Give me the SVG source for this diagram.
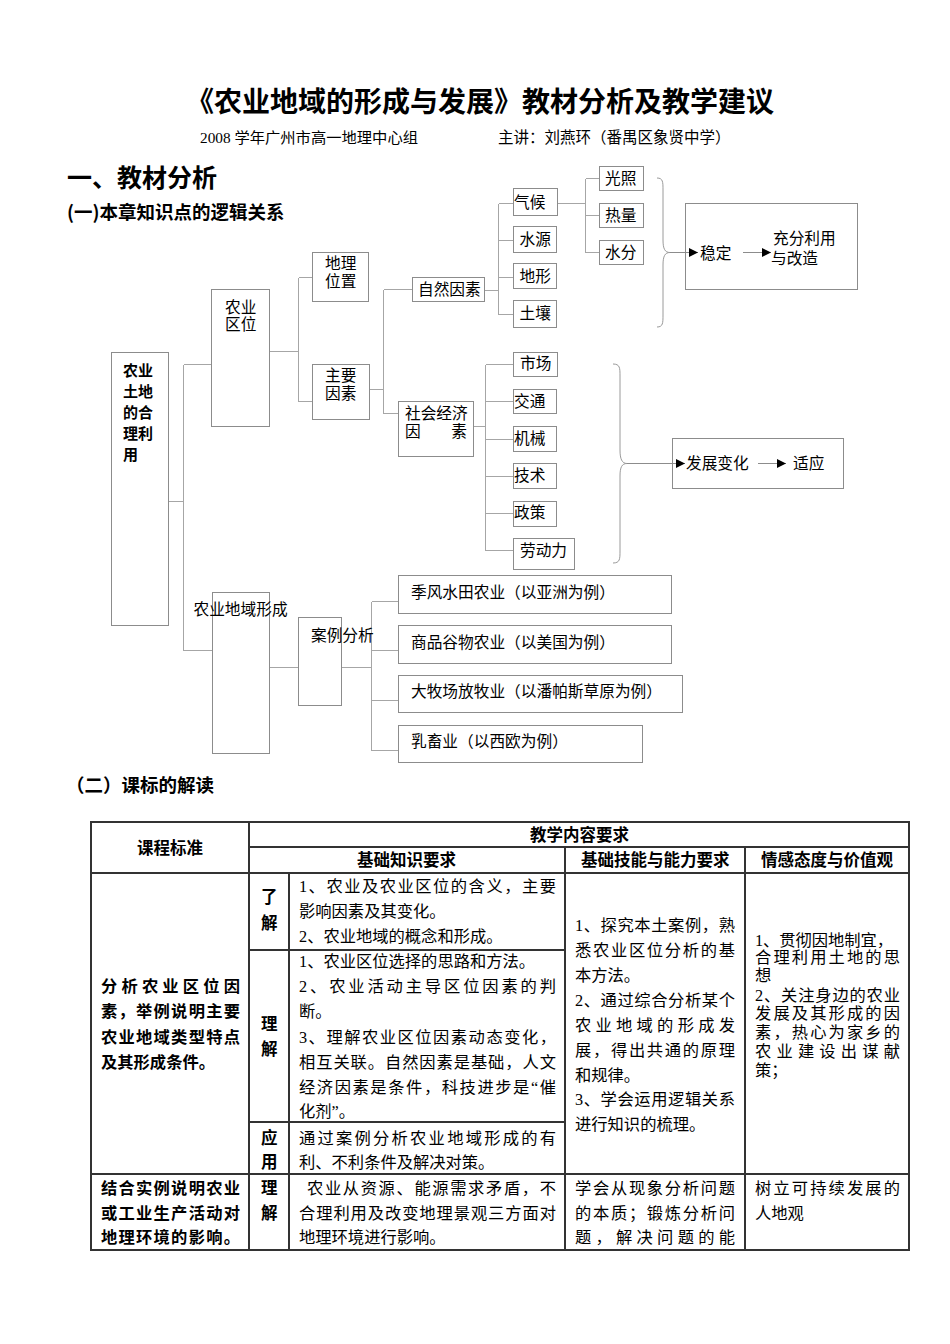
<svg xmlns="http://www.w3.org/2000/svg" width="950" height="1344" viewBox="0 0 950 1344">
<style>
text{font-family:"Liberation Serif","Noto Sans CJK SC",serif;fill:#000}
.h{font-family:"Noto Sans CJK SC","Liberation Sans",sans-serif;font-weight:bold}
.t{font-size:15.7px}
.b{fill:#fff;stroke:#8c8c8c;stroke-width:1}
.cn{fill:none;stroke:#a6a6a6;stroke-width:1}
.br{fill:none;stroke:#9a9a9a;stroke-width:1}
.tb{fill:none;stroke:#333;stroke-width:1.4}
.c{font-size:16.3px}
.th{font-size:16.5px}
</style>
<defs>
<marker id="arr" markerWidth="9" markerHeight="9" refX="9" refY="4.5" orient="auto" markerUnits="userSpaceOnUse">
<path d="M0,0 L9,4.5 L0,9 z" fill="#000"/>
</marker>
</defs>
<rect width="950" height="1344" fill="#fff"/>

<g id="titles">
<text class="h" x="186" y="112" font-size="28">《农业地域的形成与发展》教材分析及教学建议</text>
<text x="200" y="143" font-size="15.3">2008 学年广州市高一地理中心组</text>
<text x="498" y="143" font-size="15.5">主讲：刘燕环（番禺区象贤中学）</text>
<text class="h" x="67" y="186.5" font-size="25">一、教材分析</text>
<text class="h" x="67" y="219" font-size="18.5">(一)本章知识点的逻辑关系</text>
<text class="h" x="66" y="792" font-size="18.5">（二）课标的解读</text>
</g>

<g id="connectors" shape-rendering="crispEdges">
<path class="cn" d="M168.5,501.5H183.5M183.5,364.5V650.5M183.5,364.5H211.5M183.5,650.5H212.5"/>
<path class="cn" d="M269.5,351.5H298.5M298.5,277.5V401.5M298.5,277.5H312.5M298.5,401.5H312.5"/>
<path class="cn" d="M369.5,389.5H383.5M383.5,289.5V413.5M383.5,289.5H412.5M383.5,413.5H398.5"/>
<path class="cn" d="M484.5,290.5H498.5M498.5,203.5V314.5M498.5,203.5H513.5M498.5,240.5H513.5M498.5,277.5H513.5M498.5,314.5H513.5"/>
<path class="cn" d="M557.5,203.5H585.5M585.5,178.5V252.5M585.5,178.5H599.5M585.5,215.5H599.5M585.5,252.5H599.5"/>
<path class="cn" d="M473.5,426.5H485.5M485.5,364.5V550.5M485.5,364.5H513.5M485.5,401.5H513.5M485.5,439.5H513.5M485.5,476.5H513.5M485.5,513.5H513.5M485.5,550.5H513.5"/>
<path class="cn" d="M269.5,667.5H298.5M328.5,667.5H371.5M371.5,601.5V750.5M371.5,601.5H398.5M371.5,650.5H398.5M371.5,700.5H398.5M371.5,750.5H398.5"/>
</g>

<g id="n-main"><rect class="b" x="111.5" y="352.5" width="57" height="273"/>
<text class="h" font-size="15"><tspan x="123" y="376">农业</tspan><tspan x="123" y="397">土地</tspan><tspan x="123" y="418">的合</tspan><tspan x="123" y="439">理利</tspan><tspan x="123" y="460">用</tspan></text></g>

<g id="n-quwei"><rect class="b" x="211.5" y="289.5" width="58" height="137"/>
<text class="t"><tspan x="225" y="313">农业</tspan><tspan x="225" y="330">区位</tspan></text></g>

<g id="n-dili"><rect class="b" x="312.5" y="252.5" width="56" height="49"/>
<text class="t"><tspan x="325" y="269">地理</tspan><tspan x="325" y="287">位置</tspan></text></g>

<g id="n-zhuyao"><rect class="b" x="312.5" y="364.5" width="57" height="55"/>
<text class="t"><tspan x="325" y="381">主要</tspan><tspan x="325" y="399">因素</tspan></text></g>

<g id="n-ziran"><rect class="b" x="412.5" y="277.5" width="72" height="24"/>
<text class="t" x="418" y="294.5">自然因素</text></g>

<g id="n-shehui"><rect class="b" x="398.5" y="401.5" width="75" height="55"/>
<text class="t"><tspan x="405" y="418.5">社会经济</tspan><tspan x="405" y="437" textLength="62" lengthAdjust="spacing">因　　素</tspan></text></g>

<g id="n-qihou"><rect class="b" x="513.5" y="188.5" width="44" height="27"/>
<text class="t" x="514" y="208">气候</text></g>
<g id="n-shuiyuan"><rect class="b" x="513.5" y="226.5" width="43" height="26"/>
<text class="t" x="519.5" y="245">水源</text></g>
<g id="n-dixing"><rect class="b" x="513.5" y="263.5" width="43" height="25"/>
<text class="t" x="519.5" y="282">地形</text></g>
<g id="n-turang"><rect class="b" x="513.5" y="300.5" width="43" height="27"/>
<text class="t" x="519.5" y="319">土壤</text></g>

<g id="n-guangzhao"><rect class="b" x="599.5" y="166.5" width="44" height="24"/>
<text class="t" x="605" y="184">光照</text></g>
<g id="n-reliang"><rect class="b" x="599.5" y="203.5" width="44" height="24"/>
<text class="t" x="605" y="221">热量</text></g>
<g id="n-shuifen"><rect class="b" x="599.5" y="240.5" width="44" height="24"/>
<text class="t" x="605" y="258">水分</text></g>

<g id="n-wending"><rect class="b" x="685.5" y="203.5" width="172" height="86"/>
<path class="br" d="M657,178 C663,178 663,182 663,190 L663,240 C663,249 665,252.5 670,252.5 C665,252.5 663,256 663,265 L663,315 C663,323 663,327 657,327"/>
<line x1="670" y1="252.5" x2="698" y2="252.5" stroke="#8c8c8c" stroke-width="1" marker-end="url(#arr)"/>
<text class="t" x="700" y="258.5">稳定</text>
<line x1="743" y1="252.5" x2="771" y2="252.5" stroke="#8c8c8c" stroke-width="1" marker-end="url(#arr)"/>
<text class="t"><tspan x="773" y="243.5">充分利用</tspan><tspan x="771" y="263.5">与改造</tspan></text></g>

<g id="n-shichang"><rect class="b" x="513.5" y="352.5" width="44" height="24"/>
<text class="t" x="520" y="369">市场</text></g>
<g id="n-jiaotong"><rect class="b" x="513.5" y="389.5" width="43" height="24"/>
<text class="t" x="514" y="406.5">交通</text></g>
<g id="n-jixie"><rect class="b" x="513.5" y="426.5" width="43" height="25"/>
<text class="t" x="514" y="443.5">机械</text></g>
<g id="n-jishu"><rect class="b" x="513.5" y="463.5" width="43" height="25"/>
<text class="t" x="514" y="481">技术</text></g>
<g id="n-zhengce"><rect class="b" x="513.5" y="501.5" width="43" height="25"/>
<text class="t" x="514" y="518">政策</text></g>
<g id="n-laodongli"><rect class="b" x="513.5" y="538.5" width="61" height="31"/>
<text class="t" x="520" y="556">劳动力</text></g>

<g id="n-fazhan"><rect class="b" x="672.5" y="438.5" width="171" height="50"/>
<path class="br" d="M613,364 C620,364 620,368 620,376 L620,450 C620,459 622,463.5 627,463.5 C622,463.5 620,467 620,476 L620,551 C620,559 620,563 613,563"/>
<line x1="627" y1="463.5" x2="685" y2="463.5" stroke="#8c8c8c" stroke-width="1" marker-end="url(#arr)"/>
<text class="t" x="686" y="469">发展变化</text>
<line x1="758" y1="463.5" x2="786" y2="463.5" stroke="#8c8c8c" stroke-width="1" marker-end="url(#arr)"/>
<text class="t" x="793" y="469">适应</text></g>

<g id="n-quyu"><rect class="b" x="212.5" y="592.5" width="57" height="161"/>
<text class="t" x="193.5" y="615">农业地域形成</text></g>

<g id="n-anli"><rect class="b" x="298.5" y="617.5" width="43" height="88"/>
<text class="t" x="311" y="641">案例分析</text></g>

<g id="n-jifeng"><rect class="b" x="398.5" y="575.5" width="273" height="38"/>
<text class="t" x="411" y="598">季风水田农业（以亚洲为例）</text></g>
<g id="n-shangpin"><rect class="b" x="398.5" y="625.5" width="273" height="38"/>
<text class="t" x="411" y="648">商品谷物农业（以美国为例）</text></g>
<g id="n-damuchang"><rect class="b" x="398.5" y="675.5" width="284" height="37"/>
<text class="t" x="411" y="697">大牧场放牧业（以潘帕斯草原为例）</text></g>
<g id="n-ruxu"><rect class="b" x="398.5" y="725.5" width="244" height="37"/>
<text class="t" x="411" y="747">乳畜业（以西欧为例）</text></g>

<g id="table">
<g shape-rendering="crispEdges">
<rect class="tb" x="91" y="822" width="818" height="428"/>
<path class="tb" d="M249,822V1250M249,847H909M91,873H909M565,847V1250M745,847V1250M289,873V1250M249,950H565M249,1122H565M91,1174H909"/>
</g>
<g class="h th">
<text x="137" y="854">课程标准</text>
<text x="530" y="841">教学内容要求</text>
<text x="357" y="866">基础知识要求</text>
<text x="581" y="866">基础技能与能力要求</text>
<text x="761" y="866">情感态度与价值观</text>
<text x="261" y="903">了</text><text x="261" y="929">解</text>
<text x="261" y="1030">理</text><text x="261" y="1055">解</text>
<text x="261" y="1144">应</text><text x="261" y="1168">用</text>
<text x="261" y="1194">理</text><text x="261" y="1219">解</text>
</g>
<g class="h" font-size="16.3">
<text x="101" y="992" textLength="139" lengthAdjust="spacing">分析农业区位因</text>
<text x="101" y="1017" textLength="139" lengthAdjust="spacing">素，举例说明主要</text>
<text x="101" y="1043" textLength="139" lengthAdjust="spacing">农业地域类型特点</text>
<text x="101" y="1068">及其形成条件。</text>
<text x="101" y="1194" textLength="139" lengthAdjust="spacing">结合实例说明农业</text>
<text x="101" y="1219" textLength="139" lengthAdjust="spacing">或工业生产活动对</text>
<text x="101" y="1243" textLength="139" lengthAdjust="spacing">地理环境的影响。</text>
</g>
<g class="c">
<text x="299" y="892" textLength="257" lengthAdjust="spacing">1、农业及农业区位的含义，主要</text>
<text x="299" y="917">影响因素及其变化。</text>
<text x="299" y="942">2、农业地域的概念和形成。</text>
<text x="299" y="967">1、农业区位选择的思路和方法。</text>
<text x="299" y="992" textLength="257" lengthAdjust="spacing">2、农业活动主导区位因素的判</text>
<text x="299" y="1017">断。</text>
<text x="299" y="1043" textLength="257" lengthAdjust="spacing">3、理解农业区位因素动态变化，</text>
<text x="299" y="1068" textLength="257" lengthAdjust="spacing">相互关联。自然因素是基础，人文</text>
<text x="299" y="1093" textLength="257" lengthAdjust="spacing">经济因素是条件，科技进步是“催</text>
<text x="299" y="1117">化剂”。</text>
<text x="299" y="1144" textLength="257" lengthAdjust="spacing">通过案例分析农业地域形成的有</text>
<text x="299" y="1168">利、不利条件及解决对策。</text>
<text x="307" y="1194" textLength="249" lengthAdjust="spacing">农业从资源、能源需求矛盾，不</text>
<text x="299" y="1219" textLength="257" lengthAdjust="spacing">合理利用及改变地理景观三方面对</text>
<text x="299" y="1243">地理环境进行影响。</text>

<text x="575" y="931" textLength="160" lengthAdjust="spacing">1、探究本土案例，熟</text>
<text x="575" y="956" textLength="160" lengthAdjust="spacing">悉农业区位分析的基</text>
<text x="575" y="981">本方法。</text>
<text x="575" y="1006" textLength="160" lengthAdjust="spacing">2、通过综合分析某个</text>
<text x="575" y="1031" textLength="160" lengthAdjust="spacing">农业地域的形成发</text>
<text x="575" y="1056" textLength="160" lengthAdjust="spacing">展，得出共通的原理</text>
<text x="575" y="1081">和规律。</text>
<text x="575" y="1105" textLength="160" lengthAdjust="spacing">3、学会运用逻辑关系</text>
<text x="575" y="1130">进行知识的梳理。</text>
<text x="575" y="1194" textLength="160" lengthAdjust="spacing">学会从现象分析问题</text>
<text x="575" y="1219" textLength="160" lengthAdjust="spacing">的本质；锻炼分析问</text>
<text x="575" y="1243" textLength="160" lengthAdjust="spacing">题，解决问题的能</text>

<text x="755" y="946" textLength="138" lengthAdjust="spacing">1、贯彻因地制宜，</text>
<text x="755" y="963" textLength="145" lengthAdjust="spacing">合理利用土地的思</text>
<text x="755" y="981">想</text>
<text x="755" y="1001" textLength="145" lengthAdjust="spacing">2、关注身边的农业</text>
<text x="755" y="1019" textLength="145" lengthAdjust="spacing">发展及其形成的因</text>
<text x="755" y="1038" textLength="145" lengthAdjust="spacing">素，热心为家乡的</text>
<text x="755" y="1057" textLength="145" lengthAdjust="spacing">农业建设出谋献</text>
<text x="755" y="1076">策；</text>
<text x="755" y="1194" textLength="145" lengthAdjust="spacing">树立可持续发展的</text>
<text x="755" y="1219">人地观</text>
</g>
</g>
</svg>
